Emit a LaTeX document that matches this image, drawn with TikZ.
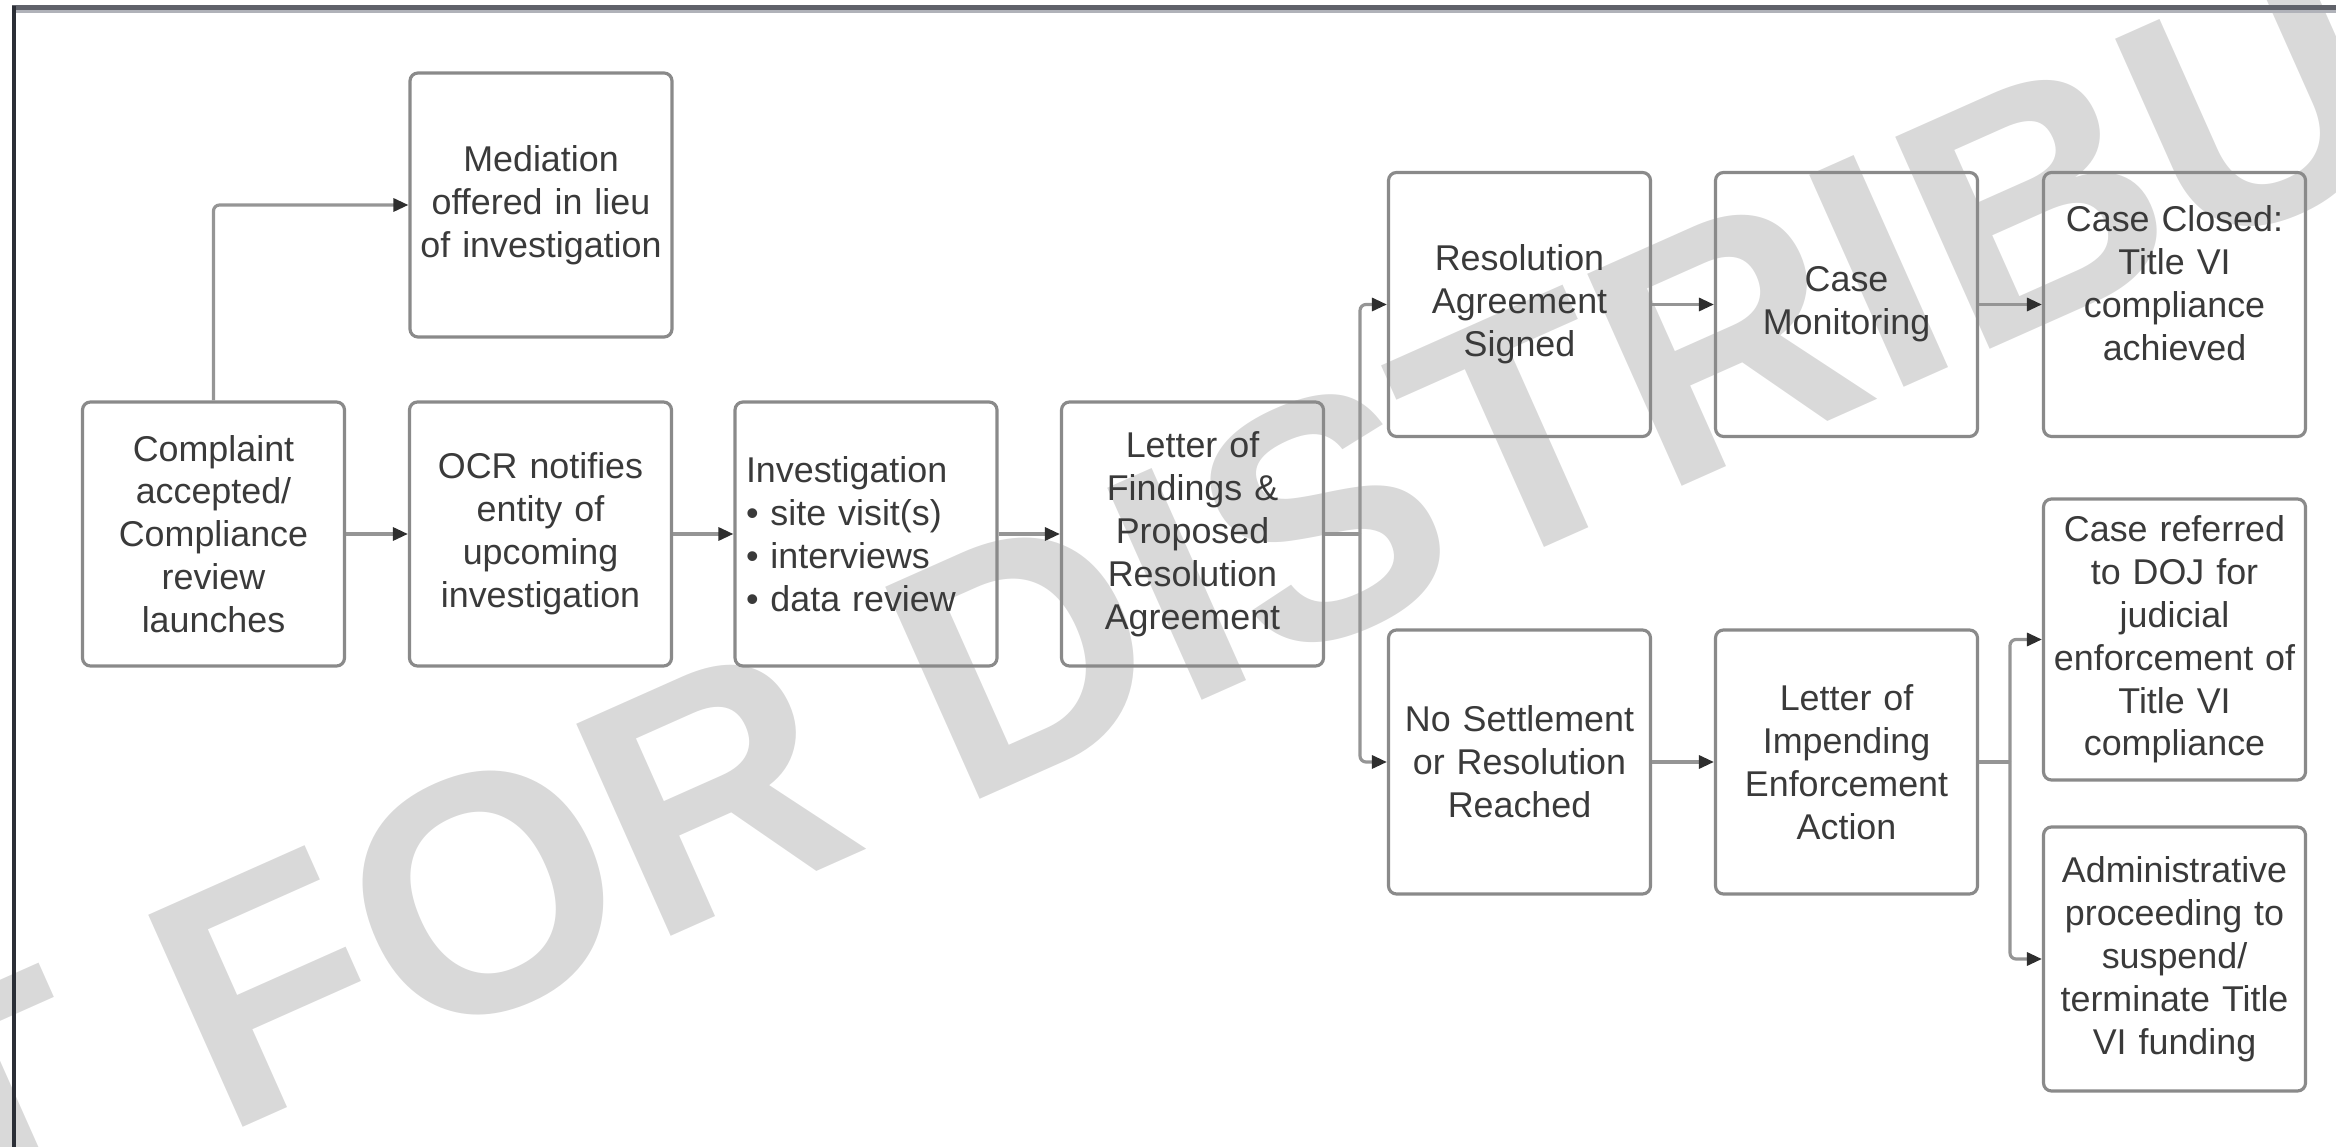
\documentclass[tikz,border=0pt]{standalone}
\usepackage{fontspec}
\setmainfont{Liberation Sans}
\usetikzlibrary{arrows.meta}

\definecolor{boxgray}{HTML}{8A8A8A}
\definecolor{linegray}{HTML}{959595}
\definecolor{tipgray}{HTML}{2E2E2E}
\definecolor{textgray}{HTML}{3A3A3A}
\definecolor{markgray}{HTML}{D9D9D9}
\definecolor{framedark}{HTML}{2B2E36}
\definecolor{frametop}{HTML}{60626A}
\definecolor{framelight}{HTML}{B0B2B9}

\tikzset{
  flowbox/.style={draw=boxgray, line width=0.9pt, rounded corners=0.08cm,
    minimum width=2.62cm, minimum height=2.64cm, text width=2.56cm,
    align=center, inner sep=0pt, text=textgray,
    font=\fontsize{10.2}{12.2}\selectfont},
  link/.style={draw=linegray, line width=0.9pt, rounded corners=0.06cm,
    -{Triangle[length=0.15cm, width=0.13cm, color=tipgray]}},
  forkline/.style={draw=linegray, line width=0.9pt},
  stamp/.style={text=markgray, inner sep=0pt, anchor=base west,
    font=\fontsize{96}{100}\selectfont\bfseries}
}

\begin{document}
\begin{tikzpicture}
\useasboundingbox (0,0) rectangle (23.36,-11.47);
% The watermark sits behind everything
\begin{scope}
\clip (0,0) rectangle (23.36,-11.47);
\node[stamp, rotate=24] (mark) at (-5.14,-14.64) {NOT FOR DISTRIBUTION};
\end{scope}
% The frame along the top and the left
\draw[frametop, line width=0.05cm] (0.12,-0.08) -- (23.36,-0.08);
\draw[framelight, line width=0.03cm] (0.12,-0.12) -- (23.36,-0.12);
\draw[framedark, line width=0.045cm] (0.14,-0.06) -- (0.14,-11.47);
% The main row
\node[flowbox] (complaint) at (2.135,-5.34) {Complaint\\accepted/\\Compliance\\review\\launches};
\node[flowbox] (notify) at (5.405,-5.34) {OCR notifies\\entity of\\upcoming\\investigation};
\node[flowbox, text width=2.4cm, align=left] (investigate) at (8.66,-5.34) {Investigation\\\textbullet{} site visit(s)\\\textbullet{} interviews\\\textbullet{} data review};
\node[flowbox] (findings) at (11.925,-5.34) {Letter of\\Findings \&\\Proposed\\Resolution\\Agreement};
\node[flowbox] (mediation) at (5.41,-2.05) {Mediation\\offered in lieu\\of investigation};
% The upper branch
\node[flowbox] (signed) at (15.195,-3.045) {Resolution\\Agreement\\Signed};
\node[flowbox] (monitoring) at (18.465,-3.045) {Case\\Monitoring};
\node[flowbox] (closed) at (21.745,-3.045) {Case Closed:\\Title VI\\compliance\\achieved\\\mbox{}};
% The lower branch
\node[flowbox] (nosettle) at (15.195,-7.62) {No Settlement\\or Resolution\\Reached};
\node[flowbox] (impending) at (18.465,-7.62) {Letter of\\Impending\\Enforcement\\Action};
\node[flowbox, minimum height=2.81cm] (referred) at (21.745,-6.395) {Case referred\\to DOJ for\\judicial\\enforcement of\\Title VI\\compliance};
\node[flowbox] (admin) at (21.745,-9.59) {Administrative\\proceeding to\\suspend/\\terminate Title\\VI funding};
% The split points
\coordinate (split) at (13.60,-5.34);
\coordinate (splittwo) at (20.10,-7.62);
% The connectors
\draw[link] (complaint.north) |- (mediation.west);
\draw[link] (complaint) -- (notify);
\draw[link] (notify) -- (investigate);
\draw[link] (investigate) -- (findings);
\draw[forkline] (findings.east) -- (split);
\draw[link] (split) |- (signed.west);
\draw[link] (split) |- (nosettle.west);
\draw[link] (signed) -- (monitoring);
\draw[link] (monitoring) -- (closed);
\draw[link] (nosettle) -- (impending);
\draw[forkline] (impending.east) -- (splittwo);
\draw[link] (splittwo) |- (referred.west);
\draw[link] (splittwo) |- (admin.west);
\end{tikzpicture}
\end{document}
